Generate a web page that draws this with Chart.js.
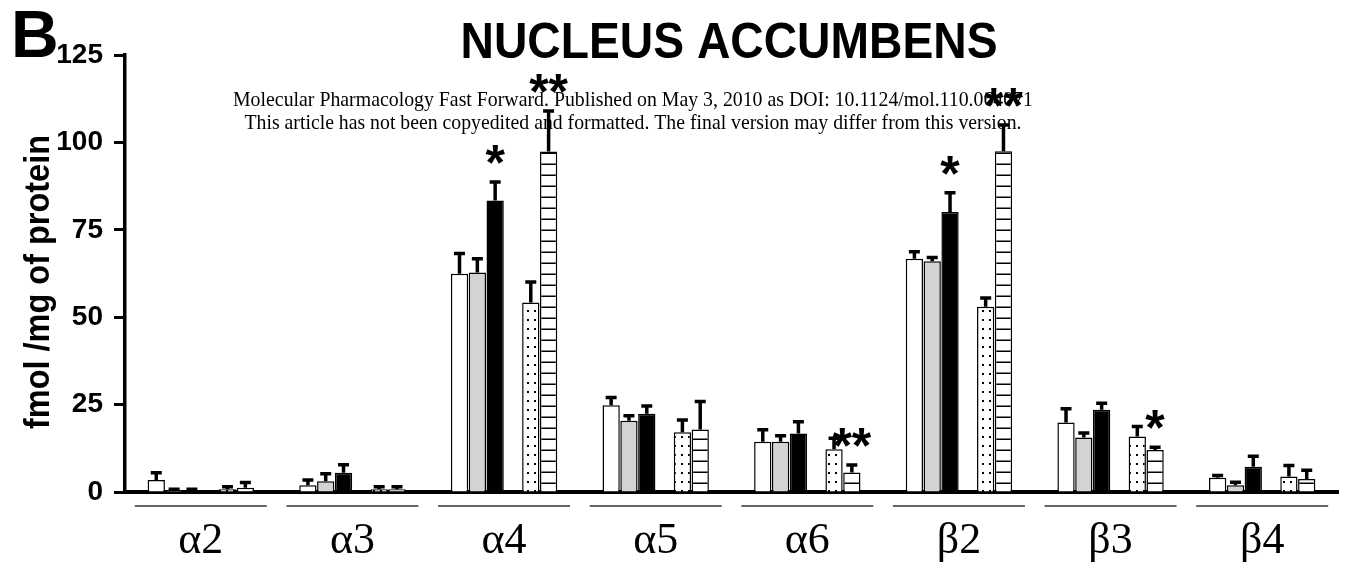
<!DOCTYPE html>
<html>
  <head>
    <title>Nucleus accumbens</title>
    <script src="https://cdn.jsdelivr.net/npm/chart.js"></script>
    <style>
      body { margin: 0; padding: 0; background: #fff; }
      #wrap { width: 1351px; height: 566px; }
    </style>
  </head>
  <body>
    <div id="wrap"><canvas id="chart" width="1351" height="566"></canvas></div>
    <script>
      // --- Data (fmol / mg of protein, mean and SEM) ---
      const categories = ["\u03b12", "\u03b13", "\u03b14", "\u03b15", "\u03b16", "\u03b22", "\u03b23", "\u03b24"];
      const yTicks = [0, 25, 50, 75, 100, 125];

      const whiteVals   = [3.4, 1.9, 62.4, 24.8, 14.4, 66.7, 19.9, 4.1];
      const whiteErr    = [2.1, 1.5, 5.8, 2.2, 3.4, 2.0, 3.9, 0.6];
      const grayVals    = [0.5, 3.1, 62.8, 20.4, 14.4, 66.0, 15.6, 1.9];
      const grayErr     = [0.3, 2.1, 3.9, 1.4, 1.7, 1.1, 1.3, 0.9];
      const blackVals   = [0.5, 5.5, 83.4, 22.4, 16.7, 80.1, 23.5, 7.2];
      const blackErr    = [0.3, 2.3, 5.3, 2.2, 3.4, 5.5, 1.9, 3.0];
      const dottedVals  = [0.8, 0.8, 54.2, 17.1, 12.2, 53.0, 15.9, 4.4];
      const dottedErr   = [0.7, 0.7, 5.9, 3.5, 3.2, 2.5, 2.8, 3.2];
      const hatchedVals = [1.2, 0.8, 97.4, 17.9, 5.6, 97.5, 12.0, 3.7];
      const hatchedErr  = [1.5, 0.7, 11.6, 8.0, 2.1, 7.5, 0.8, 2.5];

      // significance marks: [category index, dataset index, text]
      const sigMarks = [
        [2, 2, "*"], [2, 5, "**"],
        [4, 5, "**"],
        [5, 2, "*"], [5, 5, "**"],
        [6, 5, "*"]
      ];

      // --- Fill patterns ---
      function dotPattern() {
        const c = document.createElement("canvas");
        c.width = 7; c.height = 9;
        const g = c.getContext("2d");
        g.fillStyle = "#fff"; g.fillRect(0, 0, 7, 9);
        g.fillStyle = "#000";
        g.fillRect(2, 4, 2, 2);
        return g.createPattern(c, "repeat");
      }
      function hLinePattern() {
        const c = document.createElement("canvas");
        c.width = 10; c.height = 11;
        const g = c.getContext("2d");
        g.fillStyle = "#fff"; g.fillRect(0, 0, 10, 11);
        g.fillStyle = "#000";
        g.fillRect(0, 9.5, 10, 1.5);
        return g.createPattern(c, "repeat");
      }

      const bar = (vals, err, fill) => ({
        data: vals,
        err: err,
        backgroundColor: fill,
        borderColor: "#000",
        borderWidth: 1.5,
        barPercentage: 0.97,
        categoryPercentage: 0.705
      });

      const datasets = [
        bar(whiteVals, whiteErr, "#ffffff"),
        bar(grayVals, grayErr, "#d3d3d3"),
        bar(blackVals, blackErr, "#000000"),
        bar(categories.map(() => null), null, "#ffffff"), // empty slot between groups
        bar(dottedVals, dottedErr, dotPattern()),
        bar(hatchedVals, hatchedErr, hLinePattern())
      ];

      // --- Error bars, underlines, texts ---
      const extras = {
        id: "extras",
        afterDatasetsDraw(chart) {
          const ctx = chart.ctx;
          const ys = chart.scales.y;
          ctx.save();
          ctx.strokeStyle = "#000";
          ctx.lineWidth = 3.5;
          chart.data.datasets.forEach((ds, di) => {
            if (!ds.err) return;
            chart.getDatasetMeta(di).data.forEach((el, i) => {
              const top = ys.getPixelForValue(ds.data[i] + ds.err[i]);
              ctx.beginPath();
              ctx.moveTo(el.x, el.y);
              ctx.lineTo(el.x, top);
              ctx.moveTo(el.x - 5.5, top);
              ctx.lineTo(el.x + 5.5, top);
              ctx.stroke();
            });
          });
          ctx.restore();
        },
        afterDraw(chart) {
          const ctx = chart.ctx;
          const xs = chart.scales.x, ys = chart.scales.y;
          ctx.save();

          // category underlines
          ctx.strokeStyle = "#333";
          ctx.lineWidth = 1.5;
          categories.forEach((c, i) => {
            const x = xs.getPixelForValue(i);
            ctx.beginPath();
            ctx.moveTo(x - 66, xs.top + 14);
            ctx.lineTo(x + 66, xs.top + 14);
            ctx.stroke();
          });

          // significance stars
          ctx.fillStyle = "#000";
          ctx.textAlign = "center";
          ctx.textBaseline = "alphabetic";
          ctx.font = "bold 50px 'Liberation Sans', Arial, sans-serif";
          sigMarks.forEach(([ci, di, txt]) => {
            const ds = chart.data.datasets[di];
            const el = chart.getDatasetMeta(di).data[ci];
            const top = ys.getPixelForValue(ds.data[ci] + ds.err[ci]);
            ctx.fillText(txt, el.x, top - 2);
          });

          // title and panel letter
          ctx.font = "bold 50px 'Liberation Sans', Arial, sans-serif";
          ctx.fillText("NUCLEUS ACCUMBENS", 729, 58, 537);
          ctx.textAlign = "left";
          ctx.font = "bold 66px 'Liberation Sans', Arial, sans-serif";
          ctx.fillText("B", 11, 57);

          // y axis title
          ctx.save();
          ctx.translate(49, 282);
          ctx.rotate(-Math.PI / 2);
          ctx.textAlign = "center";
          ctx.font = "bold 35px 'Liberation Sans', Arial, sans-serif";
          ctx.fillText("fmol /mg of protein", 0, 0, 294);
          ctx.restore();

          // journal watermark
          ctx.textAlign = "center";
          ctx.font = "21px 'Liberation Serif', 'Times New Roman', serif";
          ctx.fillText("Molecular Pharmacology Fast Forward. Published on May 3, 2010 as DOI: 10.1124/mol.110.064071", 633, 106, 800);
          ctx.fillText("This article has not been copyedited and formatted. The final version may differ from this version.", 633, 129, 777);
          ctx.restore();
        }
      };

      new Chart(document.getElementById("chart"), {
        type: "bar",
        data: { labels: categories, datasets: datasets },
        options: {
          responsive: false,
          animation: false,
          devicePixelRatio: 1,
          layout: { padding: { top: 55, right: 13, bottom: 0, left: 0 } },
          plugins: { legend: { display: false }, tooltip: { enabled: false } },
          scales: {
            x: {
              grid: { display: false },
              border: { display: true, color: "#000", width: 4 },
              ticks: {
                color: "#000",
                padding: 15,
                font: { family: "'Liberation Serif', 'Times New Roman', serif", size: 44 }
              },
              afterFit: s => { s.height = 74; }
            },
            y: {
              min: 0,
              max: 125,
              afterBuildTicks: s => { s.ticks = yTicks.map(v => ({ value: v })); },
              grid: { drawOnChartArea: false, drawTicks: true, tickLength: 11, tickWidth: 3, tickColor: "#000" },
              border: { display: true, color: "#000", width: 3.5 },
              ticks: {
                color: "#000",
                padding: 11,
                font: { family: "'Liberation Sans', Arial, sans-serif", size: 28, weight: "bold" }
              },
              afterFit: s => { s.width = 125; }
            }
          }
        },
        plugins: [extras]
      });
    </script>
  </body>
</html>
